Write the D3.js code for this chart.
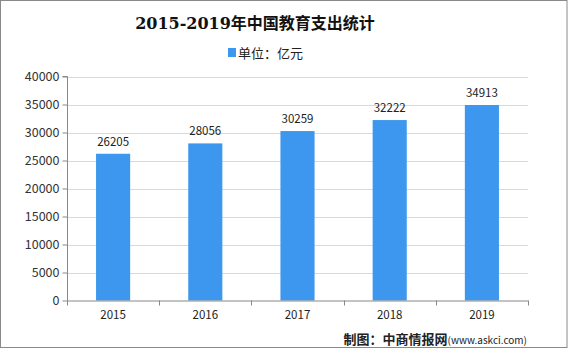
<!DOCTYPE html>
<html><head><meta charset="utf-8">
<script src="https://cdn.jsdelivr.net/npm/d3@7"></script>
<style>body{margin:0;background:#fff}svg{display:block}</style>
</head><body>
<svg id="c" width="569" height="352"></svg>
<script>
const categories = ["2015","2016","2017","2018","2019"];
const values = [26205, 28056, 30259, 32222, 34913];
const yTicks = [0,5000,10000,15000,20000,25000,30000,35000,40000];
const title = "2015-2019年中国教育支出统计";
const legendLabel = "单位：亿元";
const sourceMain = "制图：中商情报网";
const sourceSub = "(www.askci.com)";

const svg = d3.select("#c");
const font = "'Noto Sans CJK SC','Noto Sans',sans-serif";
const barColor = "#3e97ee";
const m = {left:67, right:528, top:76.5, bottom:300.5};

svg.append("rect").attr("x",0.5).attr("y",0.5).attr("width",566.5).attr("height",347)
  .attr("fill","#fff").attr("stroke","#8a8a8a");

const x = d3.scaleBand().domain(categories).range([m.left,m.right]).paddingInner(0.63).paddingOuter(0.315);
const y = d3.scaleLinear().domain([0,40000]).range([m.bottom,m.top]);

// grid
svg.append("g").selectAll("line").data(yTicks.slice(1)).join("line")
  .attr("x1",m.left).attr("x2",m.right)
  .attr("y1",d=>Math.round(y(d))+0.5).attr("y2",d=>Math.round(y(d))+0.5)
  .attr("stroke","#d9d9d9");

// bars
svg.append("g").selectAll("rect").data(values).join("rect")
  .attr("x",(d,i)=>x(categories[i])).attr("width",x.bandwidth())
  .attr("y",d=>y(d)).attr("height",d=>m.bottom-y(d))
  .attr("fill",barColor);

// labels
svg.append("g").selectAll("text").data(values).join("text")
  .attr("x",(d,i)=>x(categories[i])+x.bandwidth()/2).attr("y",d=>y(d)-8)
  .attr("text-anchor","middle").attr("font-family",font).attr("font-size",11.5).attr("fill","#222")
  .text(d=>d);

// y axis
const ya = svg.append("g").attr("transform",`translate(${m.left+0.5},0)`)
  .call(d3.axisLeft(y).tickValues(yTicks).tickSize(5).tickPadding(3).tickFormat(d3.format("d")));
ya.select(".domain").attr("stroke","#888").attr("d",`M-5,${m.top}H0V${m.bottom}`);
ya.selectAll(".tick line").attr("stroke","#888");
ya.selectAll("text").attr("font-family",font).attr("font-size",12.5).attr("fill","#333");

// x axis
const xa = svg.append("g").attr("transform",`translate(0,${m.bottom})`)
  .call(d3.axisBottom(x).tickSize(0).tickPadding(10));
xa.select(".domain").attr("stroke","#888").attr("d",`M${m.left},0.5H${m.right}`);
xa.selectAll("text").attr("font-family",font).attr("font-size",11.5).attr("fill","#222");
const step = x.step();
xa.append("g").selectAll("line").data(d3.range(categories.length+1)).join("line")
  .attr("x1",i=>Math.round(m.left+i*step)+0.5).attr("x2",i=>Math.round(m.left+i*step)+0.5)
  .attr("y1",0).attr("y2",5).attr("stroke","#888");

// title
svg.append("text").attr("x",255).attr("y",29).attr("text-anchor","middle")
  .attr("font-family","'DejaVu Serif','Noto Sans CJK SC',serif").attr("font-weight","bold")
  .attr("font-size",16).attr("fill","#111").text(title);

// legend
svg.append("rect").attr("x",228).attr("y",48).attr("width",8).attr("height",9).attr("fill",barColor);
svg.append("text").attr("x",238).attr("y",57.5).attr("font-family",font).attr("font-size",13).attr("fill","#222").text(legendLabel);

// source
const st = svg.append("text").attr("x",527).attr("y",344).attr("text-anchor","end").attr("font-family",font).attr("fill","#222");
st.append("tspan").attr("font-size",13).attr("font-weight","bold").text(sourceMain);
st.append("tspan").attr("font-size",10).text(sourceSub);
</script>
</body></html>
